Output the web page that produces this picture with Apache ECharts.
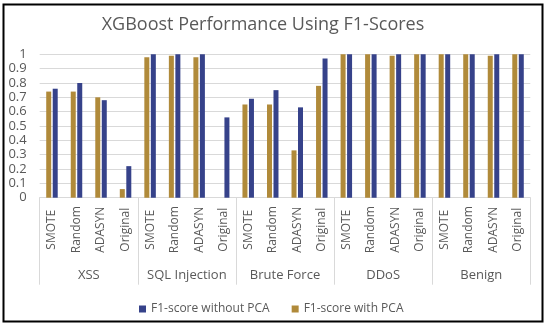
<!DOCTYPE html>
<html><head><meta charset="utf-8">
<script src="https://cdn.jsdelivr.net/npm/echarts@6/dist/echarts.min.js"></script>
<style>html,body{margin:0;padding:0;background:#fff}#c{width:550px;height:328px}</style>
</head><body><div id="c"></div>
<script>
const groups = ['XSS', 'SQL Injection', 'Brute Force', 'DDoS', 'Benign'];
const methods = ['SMOTE', 'Random', 'ADASYN', 'Original'];
const categories = [];
groups.forEach(g => methods.forEach(m => categories.push(m)));
const withoutPCA = [0.76, 0.80, 0.68, 0.22, 1.00, 1.00, 1.00, 0.56, 0.69, 0.75, 0.63, 0.97, 1.00, 1.00, 1.00, 1.00, 1.00, 1.00, 1.00, 1.00];
const withPCA    = [0.74, 0.74, 0.70, 0.06, 0.98, 0.99, 0.98, 0.00, 0.65, 0.65, 0.33, 0.78, 1.00, 1.00, 0.99, 1.00, 1.00, 1.00, 0.99, 1.00];
const yTicks = [0, 0.1, 0.2, 0.3, 0.4, 0.5, 0.6, 0.7, 0.8, 0.9, 1];

const font = 'Open Sans';
const grey = '#595959';
const chart = echarts.init(document.getElementById('c'));
chart.setOption({
  animation: false,
  textStyle: { fontFamily: font },
  title: {
    text: 'XGBoost Performance Using F1-Scores',
    left: 258, top: 11, textAlign: 'center',
    textStyle: { fontFamily: font, fontSize: 18, fontWeight: 'normal', color: grey }
  },
  legend: {
    data: ['F1-score without PCA', 'F1-score with PCA'],
    left: 134, top: 298, icon: 'rect', itemWidth: 7, itemHeight: 7, itemGap: 22,
    textStyle: { fontFamily: font, fontSize: 12, color: grey }
  },
  grid: { left: 39.7, right: 19.7, top: 54.3, bottom: 130.3, containLabel: false },
  xAxis: [{
    type: 'category', data: categories,
    axisLine: { show: true, lineStyle: { color: '#d9d9d9' } },
    axisTick: { show: false },
    axisLabel: { interval: 0, rotate: 90, align: 'center', verticalAlign: 'middle', margin: 32,
      fontFamily: font, fontSize: 12, color: grey }
  }, {
    type: 'category', data: groups, position: 'bottom',
    axisLine: { show: false },
    axisTick: { show: true, length: 87, interval: 0, lineStyle: { color: '#d9d9d9' } },
    axisLabel: { interval: 0, margin: 71, fontFamily: font, fontSize: 13, color: grey }
  }],
  yAxis: {
    type: 'value', min: 0, max: 1, interval: 0.1,
    axisLine: { show: false }, axisTick: { show: false },
    axisLabel: { margin: 13, fontFamily: font, fontSize: 13, color: grey,
      formatter: v => String(yTicks.find(t => Math.abs(t - v) < 1e-6) ?? v) },
    splitLine: { lineStyle: { color: '#d9d9d9' } }
  },
  series: [{
    name: 'F1-score with PCA', type: 'bar', data: withPCA, xAxisIndex: 0,
    barWidth: 5, barGap: '30%',
    itemStyle: { color: '#B08A3A' }
  }, {
    name: 'F1-score without PCA', type: 'bar', data: withoutPCA, xAxisIndex: 0,
    barWidth: 5, barGap: '30%',
    itemStyle: { color: '#36428A' }
  }],
  graphic: [{
    type: 'rect', shape: { x: 3.5, y: 4.5, width: 539, height: 317 },
    style: { fill: 'none', stroke: '#000', lineWidth: 2 }, silent: true
  }]
});
</script></body></html>
